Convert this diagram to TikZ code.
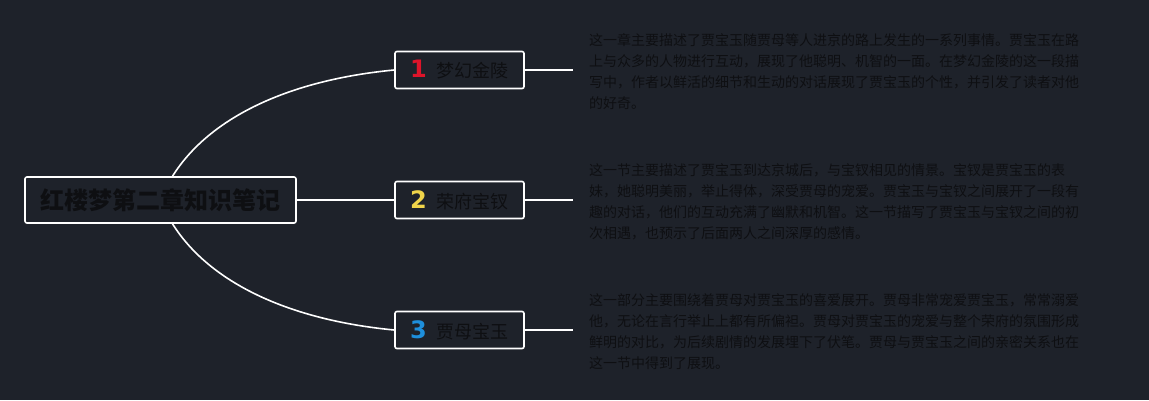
\documentclass[tikz,border=0pt]{standalone}
\usepackage{fontspec}
\usepackage{tikz}
\usetikzlibrary{calc}
\newfontfamily\cjk{Noto Sans CJK SC}
\newfontfamily\numfont{DejaVu Sans}
\definecolor{bgdark}{RGB}{30,34,42}
\definecolor{inkdark}{RGB}{14,15,18}
\definecolor{numred}{RGB}{222,20,42}
\definecolor{numyellow}{RGB}{240,212,74}
\definecolor{numblue}{RGB}{30,143,220}
\def\numlabel#1#2#3{{\numfont\bfseries\fontsize{24}{24}\selectfont\color{#1}#2}\hspace{10pt}#3}

\begin{document}
\begin{tikzpicture}[x=1pt, y=-1pt,
		rootbox/.style={draw=white, line width=1.6pt, rounded corners=2pt, fill=bgdark, text=inkdark, minimum width=271pt, minimum height=46pt, inner sep=0pt, font=\cjk\bfseries\fontsize{24}{24}\selectfont},
		topicbox/.style={draw=white, line width=1.6pt, rounded corners=2pt, fill=bgdark, text=inkdark, minimum width=129pt, minimum height=37pt, inner sep=0pt, font=\cjk\fontsize{18}{18}\selectfont},
		desc/.style={anchor=west, align=left, inner sep=0pt, text=inkdark, font=\cjk\fontsize{14}{21}\selectfont},
		link/.style={draw=white, line width=1.6pt}]
			%%%%% START %%%%%
			
			\fill[bgdark] (0, 0) rectangle (1149, 400);
			\useasboundingbox (0, 0) rectangle (1149, 400);
			
			\node[rootbox] (root) at (160.5, 200) {红楼梦第二章知识笔记};
			
			\node[topicbox] (t1) at (459.5, 70) {\numlabel{numred}{1}{梦幻金陵}};
			\node[topicbox] (t2) at (459.5, 200) {\numlabel{numyellow}{2}{荣府宝钗}};
			\node[topicbox] (t3) at (459.5, 330) {\numlabel{numblue}{3}{贾母宝玉}};
			
			\coordinate (e1) at (573, 70);
			\coordinate (e2) at (573, 200);
			\coordinate (e3) at (573, 330);
			
			\draw[link] ([xshift=12pt]root.north) .. controls +(37, -59) and +(-105, 10) .. (t1.west);
			\draw[link] (root.east) -- (t2.west);
			\draw[link] ([xshift=12pt]root.south) .. controls +(37, 59) and +(-105, -10) .. (t3.west);
			
			\draw[link] (t1.east) -- (e1);
			\draw[link] (t2.east) -- (e2);
			\draw[link] (t3.east) -- (e3);
			
			\node[desc] (d1) at ($(e1)+(16, 2)$) {这一章主要描述了贾宝玉随贾母等人进京的路上发生的一系列事情。贾宝玉在路\\上与众多的人物进行互动，展现了他聪明、机智的一面。在梦幻金陵的这一段描\\写中，作者以鲜活的细节和生动的对话展现了贾宝玉的个性，并引发了读者对他\\的好奇。};
			\node[desc] (d2) at ($(e2)+(16, 2)$) {这一节主要描述了贾宝玉到达京城后，与宝钗相见的情景。宝钗是贾宝玉的表\\妹，她聪明美丽，举止得体，深受贾母的宠爱。贾宝玉与宝钗之间展开了一段有\\趣的对话，他们的互动充满了幽默和机智。这一节描写了贾宝玉与宝钗之间的初\\次相遇，也预示了后面两人之间深厚的感情。};
			\node[desc] (d3) at ($(e3)+(16, 2)$) {这一部分主要围绕着贾母对贾宝玉的喜爱展开。贾母非常宠爱贾宝玉，常常溺爱\\他，无论在言行举止上都有所偏袒。贾母对贾宝玉的宠爱与整个荣府的氛围形成\\鲜明的对比，为后续剧情的发展埋下了伏笔。贾母与贾宝玉之间的亲密关系也在\\这一节中得到了展现。};
			
			%%%%% END %%%%%
\end{tikzpicture}
\end{document}
